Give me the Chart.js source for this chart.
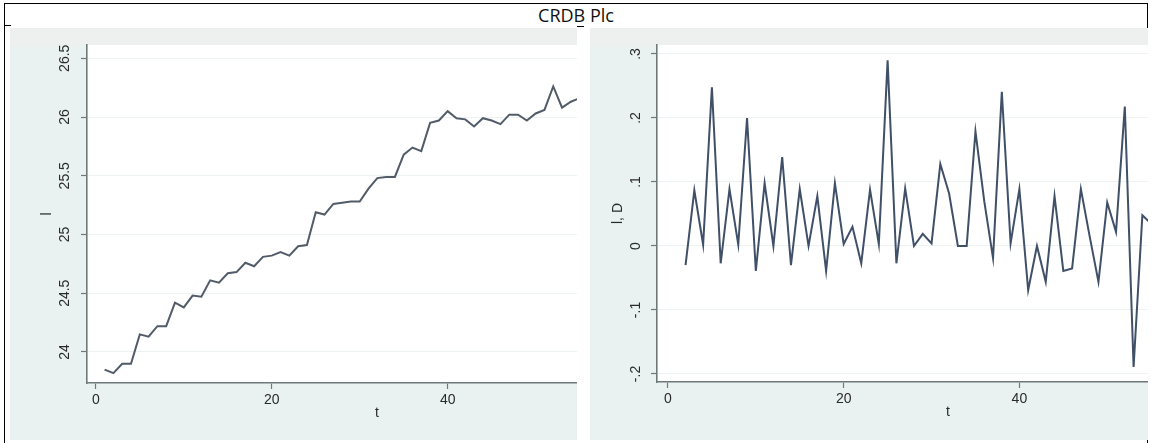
<!DOCTYPE html>
<html>
<head>
<meta charset="utf-8">
<script src="https://cdn.jsdelivr.net/npm/chart.js@4.4.1/dist/chart.umd.min.js"></script>
<style>
  body { margin: 0; background: #fff; width: 1153px; height: 443px; position: relative; overflow: hidden; }
  #frame { position: absolute; left: 4px; top: 3px; width: 1142px; height: 445px; border: 1px solid #000; border-bottom: none; }
  #title { position: absolute; left: 0; top: 5px; width: 1152px; text-align: center; font: 18px/20px "Open Sans", sans-serif; color: #111; }
  .stub { position: absolute; height: 1px; background: #000; }
  .panel { position: absolute; top: 28px; width: 567px; height: 412px;
           background: linear-gradient(to bottom, #eeefef 0px, #eef0ef 14px, #e9f2f0 20px, #e9f2f0 100%); }
  .panel canvas { display: block; }
</style>
</head>
<body>
<div id="frame"></div>
<div id="title">CRDB Plc</div>
<div class="stub" style="left:4px;top:25px;width:7px"></div>
<div class="stub" style="left:577px;top:26px;width:7px"></div>
<div class="panel" style="left:10px;width:567px"><canvas id="levelChart" width="567" height="412"></canvas></div>
<div class="panel" style="left:590px;width:558px"><canvas id="diffChart" width="558" height="412"></canvas></div>

<script>
// time index
const tLevel = [1, 2, 3, 4, 5, 6, 7, 8, 9, 10, 11, 12, 13, 14, 15, 16, 17, 18, 19, 20,
  21, 22, 23, 24, 25, 26, 27, 28, 29, 30, 31, 32, 33, 34, 35, 36, 37, 38, 39, 40,
  41, 42, 43, 44, 45, 46, 47, 48, 49, 50, 51, 52, 53, 54, 55];
// l (level)
const lLevel = [23.85, 23.82, 23.90, 23.90, 24.15, 24.13, 24.22, 24.22, 24.42, 24.38,
  24.48, 24.47, 24.61, 24.59, 24.67, 24.68, 24.76, 24.73, 24.81, 24.82,
  24.85, 24.82, 24.90, 24.91, 25.19, 25.17, 25.26, 25.27, 25.28, 25.28,
  25.39, 25.48, 25.49, 25.49, 25.68, 25.74, 25.71, 25.95, 25.97, 26.05,
  25.99, 25.98, 25.92, 25.99, 25.97, 25.94, 26.02, 26.02, 25.97, 26.03,
  26.06, 26.26, 26.08, 26.13, 26.16];
// D.l starts at t = 2
const tDiff = [2, 3, 4, 5, 6, 7, 8, 9, 10, 11, 12, 13, 14, 15, 16, 17, 18, 19, 20,
  21, 22, 23, 24, 25, 26, 27, 28, 29, 30, 31, 32, 33, 34, 35, 36, 37, 38, 39, 40,
  41, 42, 43, 44, 45, 46, 47, 48, 49, 50, 51, 52, 53, 54, 55];
const dDiff = [-0.030, 0.087, 0.002, 0.248, -0.027, 0.089, 0.002, 0.200, -0.039,
  0.098, 0.000, 0.139, -0.030, 0.089, 0.000, 0.078, -0.039, 0.098, 0.003,
  0.030, -0.027, 0.088, 0.003, 0.290, -0.027, 0.090, 0.000, 0.019, 0.004,
  0.128, 0.082, 0.000, 0.000, 0.179, 0.070, -0.019, 0.241, 0.004, 0.089,
  -0.069, 0.000, -0.056, 0.078, -0.039, -0.035, 0.089, 0.015, -0.056, 0.068,
  0.022, 0.218, -0.189, 0.048, 0.035];

const xTicks = [0, 20, 40];
const levelYTicks = [24, 24.5, 25, 25.5, 26, 26.5];
const levelYLabels = ['24', '24.5', '25', '25.5', '26', '26.5'];
const diffYTicks = [-0.2, -0.1, 0, 0.1, 0.2, 0.3];
const diffYLabels = ['-.2', '-.1', '0', '.1', '.2', '.3'];

const axisColor = '#6e7979';
const textColor = '#2a2a2a';
const fontFamily = '"Liberation Sans", Arial, sans-serif';

// white plot region + rotated Stata style labels
const stataPlugin = {
  id: 'stata',
  beforeDraw(chart) {
    const a = chart.chartArea;
    chart.ctx.save();
    chart.ctx.fillStyle = '#ffffff';
    chart.ctx.fillRect(a.left, a.top, a.right - a.left, a.bottom - a.top);
    chart.ctx.restore();
  },
  afterDraw(chart, args, opts) {
    const ctx = chart.ctx;
    const ys = chart.scales.y;
    const xs = chart.scales.x;
    ctx.save();
    ctx.fillStyle = textColor;
    ctx.font = '14px ' + fontFamily;
    ctx.textAlign = 'center';
    ctx.textBaseline = 'middle';
    opts.ticks.forEach((v, i) => {
      ctx.save();
      ctx.translate(ys.right - opts.labelGap, ys.getPixelForValue(v));
      ctx.rotate(-Math.PI / 2);
      ctx.fillText(opts.labels[i], 0, 0);
      ctx.restore();
    });
    // y title
    ctx.save();
    ctx.translate(opts.yTitleX, (ys.top + ys.bottom) / 2);
    ctx.rotate(-Math.PI / 2);
    ctx.fillText(opts.yTitle, 0, 0);
    ctx.restore();
    // x title
    ctx.fillText('t', opts.xTitleX, xs.top + 30);
    ctx.restore();
  }
};

function makeChart(id, xs, ys, cfg) {
  return new Chart(document.getElementById(id), {
    type: 'line',
    data: {
      datasets: [{
        data: xs.map((t, i) => ({ x: t, y: ys[i] })),
        borderColor: cfg.lineColor,
        borderWidth: 2,
        pointRadius: 0,
        tension: 0,
        fill: false
      }]
    },
    options: {
      responsive: false,
      animation: false,
      events: [],
      layout: { padding: { top: 17, right: 0, left: 0, bottom: 0 } },
      plugins: {
        legend: { display: false },
        tooltip: { enabled: false },
        stata: cfg.text
      },
      scales: {
        x: {
          type: 'linear',
          min: cfg.xMin,
          max: cfg.xMax,
          afterBuildTicks: s => { s.ticks = xTicks.map(v => ({ value: v })); },
          afterFit: s => { s.height = 412 - cfg.bottom; },
          grid: { drawOnChartArea: false, drawTicks: true, tickLength: 6, tickColor: axisColor, tickWidth: 1.2 },
          border: { display: true, color: axisColor, width: 1.6 },
          ticks: { color: textColor, padding: 3, maxRotation: 0, font: { size: 14, family: fontFamily } }
        },
        y: {
          min: cfg.yMin,
          max: cfg.yMax,
          afterBuildTicks: s => { s.ticks = cfg.text.ticks.map(v => ({ value: v })); },
          afterFit: s => { s.width = cfg.left; },
          grid: { color: '#edf2f2', lineWidth: 1, tickLength: 6, tickColor: axisColor, tickWidth: 1.2 },
          border: { display: true, color: axisColor, width: 1.6 },
          ticks: { display: false }
        }
      }
    },
    plugins: [stataPlugin]
  });
}

makeChart('levelChart', tLevel, lLevel, {
  lineColor: '#525c68',
  xMin: -1, xMax: 54.7,
  yMin: 23.736, yMax: 26.613,
  left: 77, bottom: 355,
  text: { ticks: levelYTicks, labels: levelYLabels, labelGap: 22, yTitle: 'l', yTitleX: 37, xTitleX: 367 }
});

makeChart('diffChart', tDiff, dDiff, {
  lineColor: '#3f5068',
  xMin: -1.25, xMax: 54.64,
  yMin: -0.2125, yMax: 0.314,
  left: 67, bottom: 354,
  text: { ticks: diffYTicks, labels: diffYLabels, labelGap: 21, yTitle: 'l, D', yTitleX: 28, xTitleX: 358 }
});
</script>
</body>
</html>
